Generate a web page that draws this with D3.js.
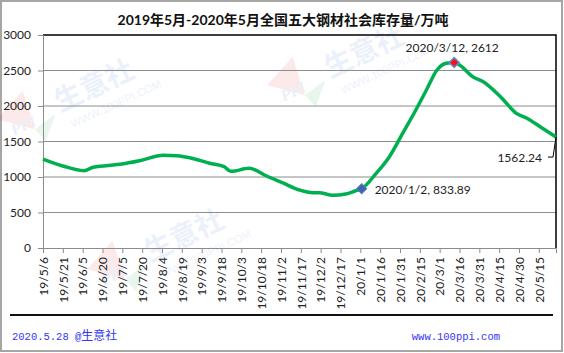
<!DOCTYPE html>
<html>
<head>
<meta charset="utf-8">
<script src="https://cdn.jsdelivr.net/npm/d3@7"></script>
<style>
  body { margin: 0; background: #fff; }
  svg { display: block; }
</style>
</head>
<body>
<div id="chart-area"></div>
<script>
// dates and stock (10k tonnes)
var dates = ["19/5/6", "19/5/21", "19/6/6", "19/6/13", "19/7/3", "19/7/18", "19/8/5", "19/8/15",
    "19/8/28", "19/9/9", "19/9/20", "19/9/25", "19/10/9", "19/10/22", "19/11/3", "19/11/16",
    "19/11/26", "19/12/1", "19/12/11", "19/12/21", "19/12/28", "20/1/2", "20/1/13", "20/1/23",
    "20/2/2", "20/2/12", "20/2/20", "20/2/28", "20/3/6", "20/3/12", "20/3/16", "20/3/26",
    "20/4/3", "20/4/16", "20/4/28", "20/5/6", "20/5/16", "20/5/28"];
var stock = [1253, 1155, 1089, 1137, 1179, 1230, 1306, 1300,
    1258, 1193, 1145, 1080, 1122, 1014, 920, 817,
    779, 779, 742, 760, 803, 833.89, 1052, 1286,
    1615, 1944, 2225, 2507, 2601, 2612, 2577, 2413,
    2342, 2131, 1897, 1827, 1708, 1562.24];
var xTickLabels = ["19/5/6", "19/5/21", "19/6/5", "19/6/20", "19/7/5", "19/7/20", "19/8/4", "19/8/19",
    "19/9/3", "19/9/18", "19/10/3", "19/10/18", "19/11/2", "19/11/17", "19/12/2", "19/12/17",
    "20/1/1", "20/1/16", "20/1/31", "20/2/15", "20/3/1", "20/3/16", "20/3/31", "20/4/15",
    "20/4/30", "20/5/15"];
var yTicks = [0, 500, 1000, 1500, 2000, 2500, 3000];
var lowPoint = { date: "20/1/2", value: 833.89, label: "2020/1/2, 833.89" };
var highPoint = { date: "20/3/12", value: 2612, label: "2020/3/12, 2612" };
var lastPoint = { date: "20/5/28", value: 1562.24, label: "1562.24" };

var width = 564;
var height = 353;
var plot = { left: 43, right: 556, top: 35, bottom: 248 };

var parse = d3.timeParse("%y/%m/%d");
var data = dates.map((d, i) => ({ date: parse(d), value: stock[i] }));

var svg = d3.select("#chart-area")
    .append("svg")
    .attr("width", width)
    .attr("height", height);

var font = "Lato, 'Noto Sans CJK SC', sans-serif";

// outer frame
svg.append("rect")
    .attr("x", 1).attr("y", 1)
    .attr("width", width - 3).attr("height", height - 3)
    .attr("fill", "#fff")
    .attr("stroke", "#a6a6a6")
    .attr("stroke-width", 2);

// faint watermarks
var marks = [[330, 78], [150, 262], [60, 112]];
marks.forEach((m) => {
    var wm = svg.append("g")
        .attr("transform", `translate(${m[0]}, ${m[1]}) rotate(-25)`)
        .attr("opacity", 0.09);
    wm.append("path")
        .attr("d", "M-60,-20 L-25,-35 L-30,5 Z")
        .attr("fill", "#e02020");
    wm.append("path")
        .attr("d", "M-30,5 L-5,0 L-25,20 Z")
        .attr("fill", "#10a040");
    wm.append("text")
        .attr("x", -52).attr("y", 2)
        .attr("font-family", "'Liberation Serif', serif")
        .attr("font-weight", "bold")
        .attr("font-style", "italic")
        .attr("font-size", 16)
        .attr("fill", "#3050c0")
        .text("PPI");
    wm.append("text")
        .attr("x", 0).attr("y", 0)
        .attr("font-family", "'Noto Sans CJK SC', sans-serif")
        .attr("font-weight", "bold")
        .attr("font-size", 28)
        .attr("fill", "#3070d0")
        .text("生意社");
    wm.append("text")
        .attr("x", 5).attr("y", 20)
        .attr("font-family", "'Liberation Sans', sans-serif")
        .attr("font-size", 11)
        .attr("fill", "#3070d0")
        .text("WWW.100PPI.COM");
});

var x = d3.scaleTime()
    .domain([parse("19/5/6"), parse("20/5/28")])
    .range([plot.left, plot.right]);

var y = d3.scaleLinear()
    .domain([0, 3000])
    .range([plot.bottom, plot.top]);

// gridlines
svg.append("g")
    .selectAll("line")
    .data(yTicks.filter(d => d > 0 && d < 3000))
    .enter()
    .append("line")
    .attr("x1", plot.left).attr("x2", plot.right)
    .attr("y1", d => y(d)).attr("y2", d => y(d))
    .attr("stroke", "#8c8c8c")
    .attr("stroke-width", 1);

// top and right border of the plot
svg.append("path")
    .attr("d", `M${plot.left},${y(3000)}H${plot.right}V${plot.bottom}`)
    .attr("fill", "none")
    .attr("stroke", "#000")
    .attr("stroke-width", 1.5);

// y axis
var yAxis = d3.axisLeft(y)
    .tickValues(yTicks)
    .tickSize(5)
    .tickPadding(7)
    .tickFormat(d3.format("d"));
var gy = svg.append("g")
    .attr("transform", `translate(${plot.left}, 0)`)
    .call(yAxis);
gy.select(".domain").attr("stroke", "#8c8c8c");
gy.selectAll(".tick line").attr("stroke", "#8c8c8c");
gy.selectAll("text")
    .attr("font-family", font)
    .attr("font-size", 12)
    .attr("fill", "#222");

// x axis
var xAxis = d3.axisBottom(x)
    .tickValues(xTickLabels.map(parse))
    .tickSize(5)
    .tickFormat(d3.timeFormat("%y/%-m/%-d"));
var gx = svg.append("g")
    .attr("transform", `translate(0, ${plot.bottom})`)
    .call(xAxis);
gx.select(".domain").attr("stroke", "#8c8c8c");
gx.selectAll(".tick line").attr("stroke", "#8c8c8c");
gx.selectAll("text")
    .attr("font-family", font)
    .attr("font-size", 12)
    .attr("fill", "#222")
    .attr("text-anchor", "end")
    .attr("dy", "0.35em")
    .attr("x", -9)
    .attr("y", 0)
    .attr("transform", "rotate(-90)");

// the line
var line = d3.line()
    .x(d => x(d.date))
    .y(d => y(d.value))
    .curve(d3.curveMonotoneX);

svg.append("path")
    .datum(data)
    .attr("d", line)
    .attr("fill", "none")
    .attr("stroke", "#00b050")
    .attr("stroke-width", 3.5)
    .attr("stroke-linejoin", "round");

// marked points (square turned 45 degrees)
var diamond = d3.symbol().type(d3.symbolSquare).size(50);

svg.append("path")
    .attr("d", diamond)
    .attr("transform", `translate(${x(parse(lowPoint.date))}, ${y(lowPoint.value)}) rotate(45)`)
    .attr("fill", "#3f64a8")
    .attr("stroke", "#4f7ac7")
    .attr("stroke-width", 1);

svg.append("path")
    .attr("d", diamond)
    .attr("transform", `translate(${x(parse(highPoint.date))}, ${y(highPoint.value)}) rotate(45)`)
    .attr("fill", "#ff1010")
    .attr("stroke", "#5b8fe0")
    .attr("stroke-width", 1.5);

svg.append("text")
    .attr("x", x(parse(lowPoint.date)) + 13)
    .attr("y", y(lowPoint.value) + 5)
    .attr("font-family", font)
    .attr("font-size", 12)
    .attr("fill", "#222")
    .text(lowPoint.label);

svg.append("text")
    .attr("x", x(parse(highPoint.date)) - 2)
    .attr("y", y(highPoint.value) - 11)
    .attr("text-anchor", "middle")
    .attr("font-family", font)
    .attr("font-size", 12)
    .attr("fill", "#222")
    .text(highPoint.label);

// callout for the last value
var lx = x(parse(lastPoint.date));
var ly = y(lastPoint.value);
svg.append("path")
    .attr("d", `M${lx},${ly}L${lx - 3},${ly + 20}H${lx - 8}`)
    .attr("fill", "none")
    .attr("stroke", "#000")
    .attr("stroke-width", 1);

svg.append("text")
    .attr("x", lx - 14)
    .attr("y", ly + 25)
    .attr("text-anchor", "end")
    .attr("font-family", font)
    .attr("font-size", 12)
    .attr("fill", "#222")
    .text(lastPoint.label);

// title
svg.append("text")
    .attr("x", 283)
    .attr("y", 25)
    .attr("text-anchor", "middle")
    .attr("font-family", font)
    .attr("font-weight", "bold")
    .attr("font-size", 14)
    .attr("fill", "#111")
    .text("2019年5月-2020年5月全国五大钢材社会库存量/万吨");

// footer
svg.append("line")
    .attr("x1", 10).attr("x2", 553)
    .attr("y1", 315).attr("y2", 315)
    .attr("stroke", "#111")
    .attr("stroke-width", 2);

var foot = svg.append("text")
    .attr("x", 12)
    .attr("y", 340)
    .attr("fill", "#3535f5");
foot.append("tspan")
    .attr("font-family", "'Liberation Mono', monospace")
    .attr("font-size", 10.5)
    .text("2020.5.28 @");
foot.append("tspan")
    .attr("font-family", "'Noto Sans CJK SC', sans-serif")
    .attr("font-size", 12)
    .text("生意社");

svg.append("text")
    .attr("x", 500)
    .attr("y", 340)
    .attr("text-anchor", "end")
    .attr("font-family", "'Liberation Mono', monospace")
    .attr("font-size", 10.5)
    .attr("fill", "#3535f5")
    .text("www.100ppi.com");
</script>
</body>
</html>
